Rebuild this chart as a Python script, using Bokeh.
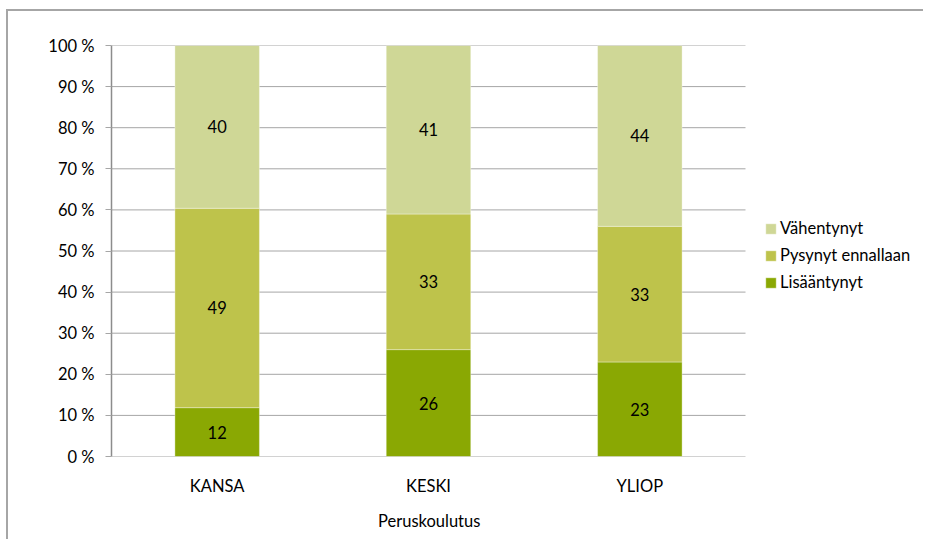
from bokeh.plotting import figure
from bokeh.models import (ColumnDataSource, Range1d, Legend, LegendItem,
                          PrintfTickFormatter, FixedTicker, Title)
from bokeh.core.properties import value
from bokeh.embed import file_html
from bokeh.resources import INLINE

# ---- data ----
categories = ["KANSA", "KESKI", "YLIOP"]
series_names = ["Lisääntynyt", "Pysynyt ennallaan", "Vähentynyt"]
lisaantynyt = [12, 26, 23]
pysynyt = [49, 33, 33]
vahentynyt = [40, 41, 44]
colors = ["#8aa803", "#bec34b", "#cfd796"]
y_ticks = [0, 10, 20, 30, 40, 50, 60, 70, 80, 90, 100]
x_title = "Peruskoulutus"

FONT = "Lato"
FS = "16.5px"
GRID = "#a6a6a6"

# layout (pixels)
W, H = 917, 530
LEFT, TOP, BOTTOM = 103, 34, 84
PLOT_W = 634          # width of the category area

frame_w = W - LEFT
n = len(categories)
x_end = n * frame_w / PLOT_W
xpos = [i + 0.5 for i in range(n)]

# 100 % stacked shares
series_vals = [lisaantynyt, pysynyt, vahentynyt]
totals = [sum(t) for t in zip(*series_vals)]
shares = [[v / t * 100 for v, t in zip(vals, totals)] for vals in series_vals]
keys = ["s0", "s1", "s2"]
data = {"x": xpos}
for k, s in zip(keys, shares):
    data[k] = s
source = ColumnDataSource(data)

# label positions (segment middles)
lab_x, lab_y, lab_t = [], [], []
for ci in range(n):
    base = 0.0
    for si in range(3):
        h = shares[si][ci]
        lab_x.append(xpos[ci])
        lab_y.append(base + h / 2)
        lab_t.append(str(series_vals[si][ci]))
        base += h
lab_src = ColumnDataSource(dict(x=lab_x, y=lab_y, t=lab_t))

p = figure(x_range=Range1d(0, x_end), y_range=Range1d(0, 100),
           width=W, height=H, output_backend="svg", toolbar_location=None,
           min_border_left=LEFT, min_border_top=TOP, min_border_right=0,
           min_border_bottom=BOTTOM,
           styles={"border-left": "2px solid #a6a6a6", "border-top": "2px solid #a6a6a6",
                   "margin-left": "6px", "margin-top": "9px"})
p.outline_line_color = None
p.xgrid.grid_line_color = None
p.ygrid.grid_line_color = None

# horizontal gridlines limited to the category area
p.segment(x0=0, x1=n, y0=y_ticks, y1=y_ticks, line_color=GRID, line_width=1)

rs = p.vbar_stack(keys, x="x", width=0.4, color=colors, source=source,
                  line_color="white", line_width=0.6, line_alpha=0.6)

p.text(x="x", y="y", text="t", source=lab_src, text_align="center",
       text_baseline="middle", text_font=value(FONT), text_font_size=FS,
       text_color="#000000")

# axes
p.yaxis.ticker = FixedTicker(ticks=y_ticks)
p.yaxis.formatter = PrintfTickFormatter(format="%d %%")
p.yaxis.axis_line_color = "#8c8c8c"
p.yaxis.axis_line_width = 1.5
p.yaxis.major_tick_line_color = GRID
p.yaxis.major_tick_out = 6
p.yaxis.major_tick_in = 0
p.yaxis.minor_tick_line_color = None
p.yaxis.major_label_standoff = 11
p.yaxis.major_label_text_font = FONT
p.yaxis.major_label_text_font_size = FS
p.yaxis.major_label_text_color = "#000000"

p.xaxis.ticker = FixedTicker(ticks=xpos)
p.xaxis.major_label_overrides = {x: c for x, c in zip(xpos, categories)}
p.xaxis.axis_line_color = None
p.xaxis.major_tick_line_color = None
p.xaxis.minor_tick_line_color = None
p.xaxis.major_label_standoff = 13
p.xaxis.major_label_text_font = FONT
p.xaxis.major_label_text_font_size = FS
p.xaxis.major_label_text_color = "#000000"

# x-axis title, centred under the category area
title_w = 101
p.add_layout(Title(text=x_title, align="left", offset=PLOT_W / 2 - title_w / 2,
                   text_font=FONT, text_font_size=FS, text_font_style="normal",
                   text_color="#000000", standoff=21), "below")

items = [LegendItem(label=series_names[i], renderers=[rs[i]]) for i in (2, 1, 0)]
legend = Legend(items=items, location=(653, 164), padding=0, margin=0,
                border_line_color=None, background_fill_alpha=0,
                glyph_width=13, glyph_height=13, label_height=13, spacing=7,
                label_standoff=3, label_text_font=FONT, label_text_font_size=FS,
                label_text_color="#000000")
p.add_layout(legend, "center")

open("out.html", "w").write(file_html(p, INLINE))
